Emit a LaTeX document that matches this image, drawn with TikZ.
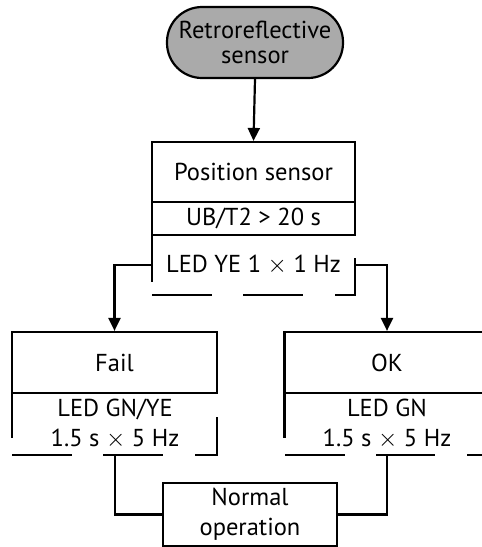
\documentclass[tikz,border=0pt]{standalone}
\usepackage{fontspec}
\setmainfont{PT Sans}
\usetikzlibrary{arrows.meta}
\definecolor{pillgray}{RGB}{170,170,170}
\begin{document}
\begin{tikzpicture}[x=1pt,y=-1pt,
  lw/.style={line width=2.2pt},
  box/.style={draw,lw,inner sep=0pt,font=\fontsize{24.5}{30}\selectfont,align=center},
  txt/.style={inner sep=0pt,font=\fontsize{24.5}{30}\selectfont,align=center},
  arr/.style={lw,-{Triangle[length=13pt,width=12pt]}},
  seg/.style={lw}]
\useasboundingbox (0,0) rectangle (482,547);
\clip (0,0) rectangle (482,547);
% top pill
\node[draw,lw,fill=pillgray,rounded corners=35pt,minimum width=176pt,minimum height=71pt,inner sep=0pt,align=center,font=\fontsize{24.5}{25}\selectfont] (rs) at (255,42.5) {Retroreflective\\sensor};
% position sensor
\node[box,minimum width=203pt,minimum height=60pt] (ps) at (253.5,172) {Position sensor};
\node[box,minimum width=203pt,minimum height=33pt] (ub) at (253.5,218.5) {UB/T2 > 20 s};
\node[txt] (led1) at (253.5,265) {LED YE 1 $\times$ 1 Hz};
\draw[arr] (rs.south) -- (ps.north);
% blinking frame of position sensor
\coordinate (p1a) at (152,235); \coordinate (p1b) at (152,282);
\draw[seg] (p1a) -- (p1b);
\draw[seg] (152,295) -- (212,295);
\draw[seg] (243,295) -- (303,295);
\draw[seg] (335,295) -- (355,295) -- (355,258);
\coordinate (pl) at (152,265);
\coordinate (pr) at (355,265);
% fail
\node[box,minimum width=205pt,minimum height=61pt] (fail) at (114.5,362.5) {Fail};
\node[txt] (fled) at (115,424) {LED GN/YE\\1.5 s $\times$ 5 Hz};
\draw[seg] (12,393) -- (12,438);
\draw[seg] (12,455) -- (72,455);
\draw[seg] (103,455) -- (163,455);
\draw[seg] (195,455) -- (217,455) -- (217,417);
\coordinate (fb) at (115,455);
% ok
\node[box,minimum width=205pt,minimum height=61pt] (ok) at (387,362.5) {OK};
\node[txt] (oled) at (387,424) {LED GN\\1.5 s $\times$ 5 Hz};
\draw[seg] (284.5,393) -- (284.5,438);
\draw[seg] (285,455) -- (345,455);
\draw[seg] (376,455) -- (435,455);
\draw[seg] (467,455) -- (489.5,455) -- (489.5,417);
\coordinate (ob) at (387,455);
% connectors
\draw[arr] (pl) -| (fail.north);
\draw[arr] (pr) -| (ok.north);
% normal operation
\node[box,minimum width=174pt,minimum height=63pt] (no) at (250,514.5) {Normal\\operation};
\draw[lw] (fb) |- (no.west);
\draw[lw] (ob) |- (no.east);
\end{tikzpicture}
\end{document}
